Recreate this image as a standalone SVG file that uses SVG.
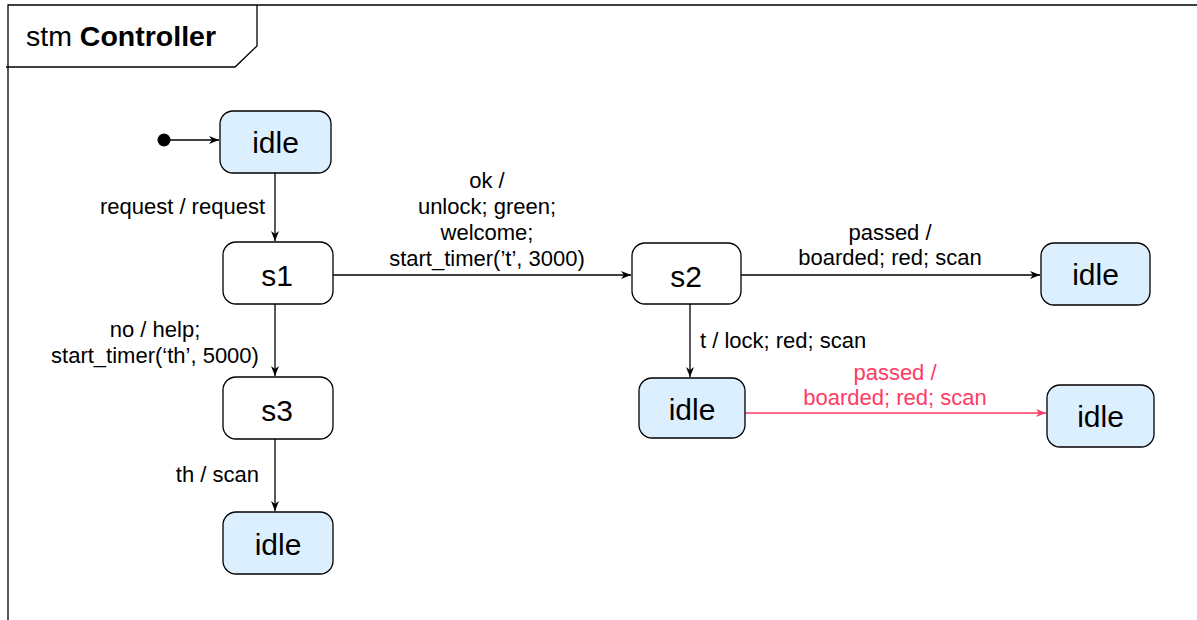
<svg xmlns="http://www.w3.org/2000/svg" width="1197" height="620" viewBox="0 0 1197 620">
<defs>
<marker id="ah" viewBox="0 0 10 8" refX="10" refY="4" markerWidth="10" markerHeight="8" markerUnits="userSpaceOnUse" orient="auto">
<path d="M0,0 L10,4 L0,8 L3,4 z" fill="#000"/>
</marker>
<marker id="ahr" viewBox="0 0 10 8" refX="10" refY="4" markerWidth="10" markerHeight="8" markerUnits="userSpaceOnUse" orient="auto">
<path d="M0,0 L10,4 L0,8 L3,4 z" fill="#ff3a64"/>
</marker>
<style>
text{font-family:"Liberation Sans",Arial,Helvetica,sans-serif;fill:#000}
.st{stroke:#000;stroke-width:1.3}
.idle{fill:#dcefff}
.plain{fill:#fff}
.nt{font-size:30px;text-anchor:middle}
.lb{font-size:22px}
.c{text-anchor:middle}
.e{text-anchor:end}
.ln{stroke:#000;stroke-width:1.3;fill:none;marker-end:url(#ah)}
.red{stroke:#ff3a64;stroke-width:1.3;fill:none;marker-end:url(#ahr)}
.rt{fill:#ff3a64}
</style>
</defs>
<rect width="1197" height="620" fill="#fff"/>
<g id="frame">
<path d="M8,620 L8,5 L1197,5" fill="none" stroke="#000" stroke-width="1.3"/>
<path d="M6,67 L235,67 L257,46 L257,5" fill="none" stroke="#000" stroke-width="1.3"/>
<text x="26" y="46" style="font-size:28.5px">stm <tspan font-weight="bold">Controller</tspan></text>
</g>
<g id="connectors">
<line class="ln" x1="170" y1="140" x2="219" y2="140"/>
<line class="ln" x1="275" y1="173" x2="275" y2="241"/>
<line class="ln" x1="275" y1="304" x2="275" y2="376"/>
<line class="ln" x1="275" y1="439" x2="275" y2="511"/>
<line class="ln" x1="333" y1="275" x2="631" y2="275"/>
<line class="ln" x1="741" y1="275" x2="1040" y2="275"/>
<line class="ln" x1="690" y1="304" x2="690" y2="377"/>
<line class="red" x1="745" y1="413" x2="1046" y2="413"/>
<text class="lb e" x="265" y="214">request / request</text>
<text class="lb c" x="155" y="337">no / help;</text>
<text class="lb c" x="155" y="363">start_timer(‘th’, 5000)</text>
<text class="lb e" x="259" y="482">th / scan</text>
<text class="lb c" x="487" y="188">ok /</text>
<text class="lb c" x="487" y="214">unlock; green;</text>
<text class="lb c" x="487" y="240">welcome;</text>
<text class="lb c" x="487" y="266">start_timer(’t’, 3000)</text>
<text class="lb c" x="890" y="240">passed /</text>
<text class="lb c" x="890" y="265">boarded; red; scan</text>
<text class="lb" x="700" y="348">t / lock; red; scan</text>
<text class="lb c rt" x="895" y="380">passed /</text>
<text class="lb c rt" x="895" y="405">boarded; red; scan</text>
</g>
<g id="init"><circle cx="164" cy="140" r="6.5" fill="#000"/></g>
<g id="idle1"><rect class="st idle" x="220" y="111" width="111" height="62" rx="13"/><text class="nt" x="275.5" y="153">idle</text></g>
<g id="s1"><rect class="st plain" x="223" y="242" width="110" height="62" rx="13"/><text class="nt" x="277" y="286">s1</text></g>
<g id="s3"><rect class="st plain" x="223" y="377" width="110" height="62" rx="13"/><text class="nt" x="277" y="421">s3</text></g>
<g id="idle3"><rect class="st idle" x="223" y="512" width="110" height="62" rx="13"/><text class="nt" x="278" y="555">idle</text></g>
<g id="s2"><rect class="st plain" x="632" y="243" width="109" height="61" rx="13"/><text class="nt" x="686" y="287">s2</text></g>
<g id="idle2"><rect class="st idle" x="1041" y="243" width="109" height="62" rx="13"/><text class="nt" x="1095.5" y="285">idle</text></g>
<g id="idle4"><rect class="st idle" x="639" y="378" width="106" height="60" rx="13"/><text class="nt" x="692" y="420">idle</text></g>
<g id="idle5"><rect class="st idle" x="1047" y="385" width="107" height="62" rx="13"/><text class="nt" x="1100.5" y="427">idle</text></g>
</svg>
